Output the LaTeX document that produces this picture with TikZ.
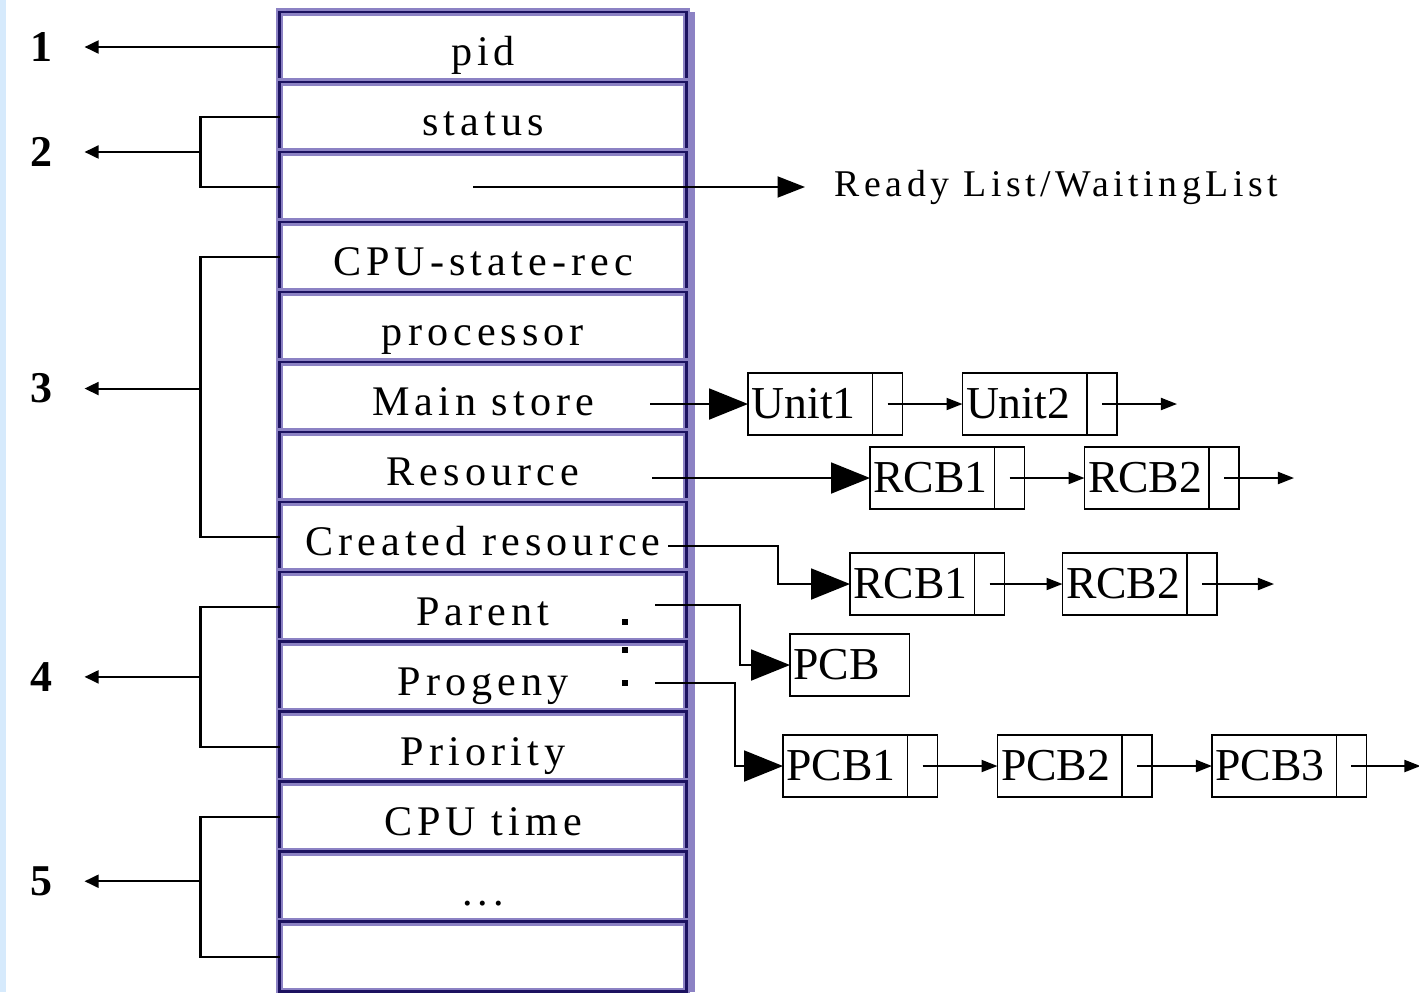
\documentclass[tikz,border=0pt]{standalone}
\usepackage{fontspec}
\setmainfont{Liberation Serif}
\newfontfamily\rowfont[LetterSpace=12]{Liberation Serif}
\usetikzlibrary{arrows.meta,positioning,calc}
\definecolor{pcbnavy}{RGB}{28,18,96}
\definecolor{pcblav}{RGB}{140,130,196}
\definecolor{edgeblue}{RGB}{214,234,252}

\begin{document}
\begin{tikzpicture}[
      x=0.02cm, y=-0.02cm, line width=1.1pt, node distance=0pt and 1.2cm,
      row/.style={draw=pcbnavy, line width=1.6pt,
        preaction={draw=pcblav, line width=4.4pt},
        minimum width=8.14cm, minimum height=1.4cm, inner sep=0pt, outer sep=0pt,
        text height=24pt, text depth=2.5pt, font=\fontsize{24}{28}\rowfont},
      num/.style={font=\fontsize{25}{30}\selectfont\bfseries, minimum width=1.7cm, inner sep=0pt},
      lcell/.style={draw, minimum height=1.24cm, text width=2.35cm, inner xsep=2pt,
        inner ysep=0pt, outer sep=0pt, align=left, font=\fontsize{26}{30}\selectfont},
      pcell/.style={draw, minimum height=1.24cm, minimum width=0.6cm, inner sep=0pt, outer sep=0pt},
      larr/.style={-{Triangle[length=0.28cm, width=0.26cm]}},
      barr/.style={-{Triangle[length=0.78cm, width=0.62cm]}},
      rarr/.style={-{Triangle[length=0.55cm, width=0.42cm]}},
      sarr/.style={-{Triangle[length=0.32cm, width=0.24cm]}},
      brk/.style={line width=1.3pt},
    ]
    \useasboundingbox (0,0) rectangle (1419,992);
    \fill[edgeblue] (0,0) rectangle (6,992);

    % --- the PCB column ---
    \node[row] (pid) at (483,47) {pid};
    \node[row, below=of pid] (status) {status};
    \node[row, below=of status] (qlink) {};
    \node[row, below=of qlink] (cpurec) {CPU-state-rec};
    \node[row, below=of cpurec] (proc) {processor};
    \node[row, below=of proc] (mstore) {Main store};
    \node[row, below=of mstore] (res) {Resource};
    \node[row, below=of res] (cres) {Created resource};
    \node[row, below=of cres] (parent) {Parent};
    \node[row, below=of parent] (progeny) {Progeny};
    \node[row, below=of progeny] (prio) {Priority};
    \node[row, below=of prio] (cputime) {CPU time};
    \node[row, below=of cputime] (etc) {...};
    \node[row, below=of etc] (last) {};
    \draw[pcblav, line width=2.4pt] ($(pid.north east)+(6,0)$) -- ($(last.south east)+(6,0)$);

    % --- left: groups 1..5 ---
    \node[num, left=3.9cm of pid.west] (n1) {1};
    \draw[larr] (pid.west) -- (n1);

    \draw[brk] (status.west) -- ++(-79,0) coordinate (b2a) |- (qlink.west);
    \coordinate (b2m) at ($(b2a)!0.5!(b2a |- qlink.west)$);
    \node[num, left=2.32cm of b2m] (n2) {2};
    \draw[larr] (b2m) -- (n2);

    \draw[brk] (cpurec.west) -- ++(-79,0) coordinate (b3a) |- (cres.west);
    \coordinate (b3m) at ($(b3a)!0.47!(b3a |- cres.west)$);
    \node[num, left=2.32cm of b3m] (n3) {3};
    \draw[larr] (b3m) -- (n3);

    \draw[brk] (parent.west) -- ++(-79,0) coordinate (b4a) |- (prio.west);
    \coordinate (b4m) at ($(b4a)!0.5!(b4a |- prio.west)$);
    \node[num, left=2.32cm of b4m] (n4) {4};
    \draw[larr] (b4m) -- (n4);

    \draw[brk] (cputime.west) -- ++(-79,0) coordinate (b5a) |- (last.west);
    \coordinate (b5m) at ($(b5a)!0.46!(b5a |- last.west)$);
    \node[num, left=2.32cm of b5m] (n5) {5};
    \draw[larr] (b5m) -- (n5);

    % --- right: queue link ---
    \node[font=\fontsize{21.5}{25}\rowfont, anchor=west] (ready) at (828,187) {Ready List/WaitingList};
    \draw[rarr, shorten >=0.46cm] ($(qlink.center)+(-10,0)$) -- (ready);

    % --- main store units ---
    \node[lcell, anchor=west] (unit1) at (748,404) {Unit1};
    \node[pcell, right=0pt of unit1] (unit1p) {};
    \node[lcell, right=1.2cm of unit1p] (unit2) {Unit2};
    \node[pcell, right=0pt of unit2] (unit2p) {};
    \coordinate[right=1.2cm of unit2p] (unit2end);
    \coordinate (msout) at (650,404);
    \draw[barr] (msout) -- (unit1);
    \draw[sarr] (unit1p.center) -- (unit2);
    \draw[sarr] (unit2p.center) -- (unit2end);

    % --- resources ---
    \node[lcell, anchor=west] (rcba1) at (870,478) {RCB1};
    \node[pcell, right=0pt of rcba1] (rcba1p) {};
    \node[lcell, right=1.2cm of rcba1p] (rcba2) {RCB2};
    \node[pcell, right=0pt of rcba2] (rcba2p) {};
    \coordinate[right=1.1cm of rcba2p] (rcba2end);
    \coordinate (resout) at (652,478);
    \draw[barr] (resout) -- (rcba1);
    \draw[sarr] (rcba1p.center) -- (rcba2);
    \draw[sarr] (rcba2p.center) -- (rcba2end);

    % --- created resources ---
    \node[lcell, anchor=west] (rcbb1) at (850,584) {RCB1};
    \node[pcell, right=0pt of rcbb1] (rcbb1p) {};
    \node[lcell, right=1.16cm of rcbb1p] (rcbb2) {RCB2};
    \node[pcell, right=0pt of rcbb2] (rcbb2p) {};
    \coordinate[right=1.14cm of rcbb2p] (rcbb2end);
    \coordinate (cresout) at (668,546);
    \draw[barr] (cresout) -| ($(rcbb1.west)+(-72,0)$) -- (rcbb1);
    \draw[sarr] (rcbb1p.center) -- (rcbb2);
    \draw[sarr] (rcbb2p.center) -- (rcbb2end);

    % --- parent / progeny ---
    \fill (622,619) rectangle ++(6,6);
    \fill (622,647) rectangle ++(6,6);
    \fill (622,680) rectangle ++(6,6);
    \node[lcell, anchor=west, text width=2.25cm] (pcb) at (790,665) {PCB};
    \coordinate (parout) at (655,605);
    \draw[barr] (parout) -| ($(pcb.west)+(-50,0)$) -- (pcb);

    \node[lcell, anchor=west] (pcb1) at (783,766) {PCB1};
    \node[pcell, right=0pt of pcb1] (pcb1p) {};
    \node[lcell, right=1.2cm of pcb1p] (pcb2) {PCB2};
    \node[pcell, right=0pt of pcb2] (pcb2p) {};
    \node[lcell, right=1.2cm of pcb2p] (pcb3) {PCB3};
    \node[pcell, right=0pt of pcb3] (pcb3p) {};
    \coordinate[right=1.08cm of pcb3p] (pcb3end);
    \coordinate (progout) at (655,683);
    \draw[barr] (progout) -| ($(pcb1.west)+(-48,0)$) -- (pcb1);
    \draw[sarr] (pcb1p.center) -- (pcb2);
    \draw[sarr] (pcb2p.center) -- (pcb3);
    \draw[sarr] (pcb3p.center) -- (pcb3end);
  \end{tikzpicture}
\end{document}
